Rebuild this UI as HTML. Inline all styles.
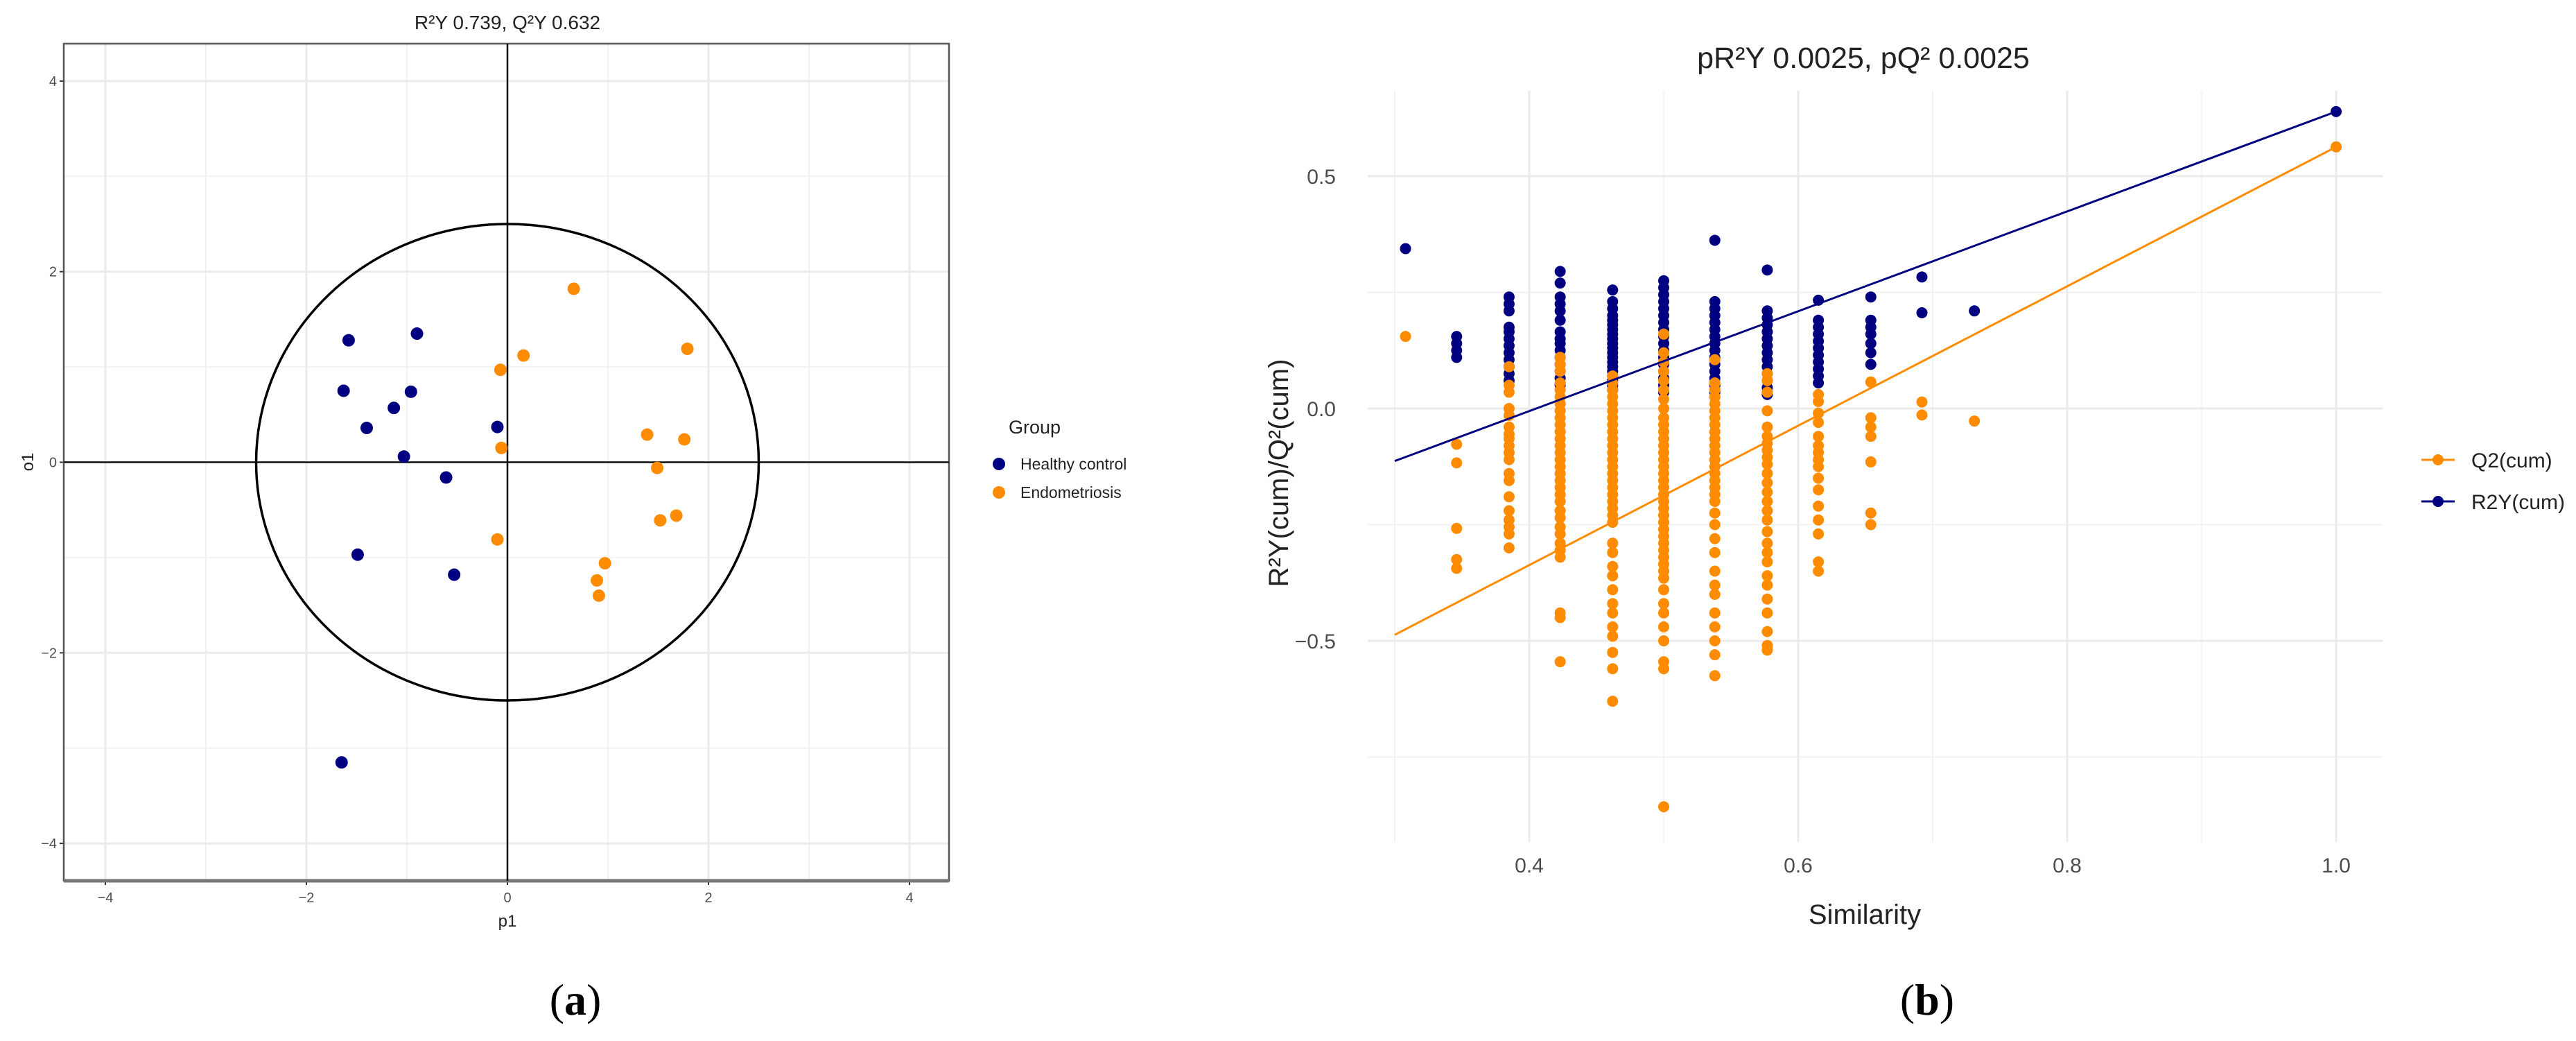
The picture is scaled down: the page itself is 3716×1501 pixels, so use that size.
<!DOCTYPE html>
<html><head><meta charset="utf-8"><style>
html,body{margin:0;padding:0;background:#fff;}
svg{display:block;font-family:"Liberation Sans",Arial,sans-serif;}
</style></head><body>
<svg id="fig" width="3716" height="1501" viewBox="0 0 3716 1501" xmlns="http://www.w3.org/2000/svg">
<g id="pa"></g>
<g id="pb"></g>
</svg>
<script>
// ---------- Panel (a) data ----------
const aTicks = [-4, -2, 0, 2, 4];
const aMinor = [-3, -1, 1, 3];
const hcP1 = [-1.58, -0.90, -1.63, -0.96, -1.13, -1.40, -0.10, -1.03, -0.61, -1.49, -0.53, -1.65];
const hcO1 = [1.28, 1.35, 0.75, 0.74, 0.57, 0.36, 0.37, 0.06, -0.16, -0.97, -1.18, -3.15];
const enP1 = [0.66, 0.16, -0.07, 1.79, 1.39, 1.76, -0.06, 1.49, 1.68, 1.52, -0.10, 0.97, 0.89, 0.91];
const enO1 = [1.82, 1.12, 0.97, 1.19, 0.29, 0.24, 0.15, -0.06, -0.56, -0.61, -0.81, -1.06, -1.24, -1.40];
const ellipseRadius = [2.5];

// ---------- Panel (b) data ----------
const bXTicks = [0.4, 0.6, 0.8, 1.0];
const bXMinor = [0.3, 0.5, 0.7, 0.9];
const bYTicks = [0.5, 0.0, -0.5];
const bYMinor = [0.25, -0.25, -0.75];
const simCols = [0.308, 0.346, 0.385, 0.423, 0.462, 0.5, 0.538, 0.577, 0.615, 0.654, 0.692, 0.731, 1.0];
const r2yCols = [
 [0.344],
 [0.155,0.14,0.125,0.11],
 [0.24,0.225,0.21,0.175,0.165,0.15,0.135,0.12,0.105,0.09,0.075,0.06],
 [0.295,0.27,0.24,0.225,0.21,0.19,0.165,0.15,0.14,0.125,0.11,0.095,0.08,0.065,0.05],
 [0.255,0.23,0.215,0.2,0.19,0.18,0.17,0.16,0.15,0.14,0.13,0.12,0.11,0.1,0.09,0.08,0.07,0.06,0.05,0.04],
 [0.275,0.26,0.245,0.23,0.215,0.2,0.185,0.17,0.155,0.14,0.125,0.11,0.095,0.08,0.065,0.05,0.035],
 [0.362,0.23,0.215,0.2,0.185,0.17,0.155,0.14,0.125,0.11,0.095,0.08,0.065,0.05,0.035,0.025],
 [0.298,0.21,0.195,0.18,0.165,0.15,0.135,0.12,0.105,0.09,0.075,0.06,0.045,0.03],
 [0.233,0.19,0.175,0.16,0.145,0.13,0.115,0.1,0.085,0.07,0.055],
 [0.24,0.19,0.175,0.16,0.14,0.12,0.095],
 [0.283,0.206],
 [0.21],
 [0.639]
];
const q2Cols = [
 [0.155],
 [-0.077,-0.117,-0.258,-0.325,-0.344],
 [0.09,0.05,0.035,0.0,-0.015,-0.04,-0.055,-0.065,-0.08,-0.095,-0.11,-0.14,-0.155,-0.19,-0.22,-0.24,-0.255,-0.27,-0.3],
 [0.11,0.095,0.08,0.055,0.04,0.025,0.01,-0.005,-0.02,-0.035,-0.05,-0.065,-0.08,-0.095,-0.11,-0.125,-0.14,-0.155,-0.17,-0.185,-0.2,-0.22,-0.235,-0.255,-0.27,-0.29,-0.305,-0.32,-0.44,-0.45,-0.545],
 [0.07,0.055,0.04,0.025,0.01,-0.005,-0.02,-0.035,-0.05,-0.065,-0.08,-0.095,-0.11,-0.125,-0.14,-0.155,-0.17,-0.185,-0.2,-0.215,-0.23,-0.245,-0.29,-0.31,-0.34,-0.36,-0.39,-0.42,-0.44,-0.47,-0.49,-0.525,-0.56,-0.63],
 [0.16,0.12,0.1,0.08,0.06,0.04,0.02,0.0,-0.02,-0.035,-0.05,-0.065,-0.08,-0.095,-0.11,-0.125,-0.14,-0.155,-0.17,-0.185,-0.2,-0.215,-0.23,-0.245,-0.26,-0.275,-0.29,-0.305,-0.32,-0.335,-0.35,-0.365,-0.39,-0.42,-0.44,-0.47,-0.5,-0.545,-0.56,-0.857],
 [0.105,0.055,0.04,0.025,0.01,-0.005,-0.02,-0.035,-0.05,-0.065,-0.08,-0.095,-0.11,-0.125,-0.14,-0.155,-0.17,-0.185,-0.2,-0.225,-0.25,-0.28,-0.31,-0.35,-0.38,-0.4,-0.44,-0.47,-0.5,-0.53,-0.575],
 [0.075,0.06,0.035,-0.005,-0.04,-0.06,-0.075,-0.09,-0.105,-0.12,-0.14,-0.16,-0.18,-0.2,-0.22,-0.24,-0.265,-0.29,-0.31,-0.33,-0.36,-0.38,-0.41,-0.44,-0.48,-0.51,-0.52],
 [0.03,0.015,-0.01,-0.03,-0.06,-0.08,-0.095,-0.11,-0.125,-0.15,-0.175,-0.21,-0.24,-0.27,-0.33,-0.35],
 [0.057,-0.02,-0.04,-0.06,-0.115,-0.225,-0.25],
 [0.014,-0.014],
 [-0.027],
 [0.563]
];
const r2yLineX = [0.3, 1.0];
const r2yLineY = [-0.113, 0.639];
const q2LineX = [0.3, 1.0];
const q2LineY = [-0.487, 0.563];

const NS = "http://www.w3.org/2000/svg";
function mk(parent, tag, attrs, text){
  const e = document.createElementNS(NS, tag);
  for (const k in attrs) e.setAttribute(k, attrs[k]);
  if (text !== undefined) e.textContent = text;
  parent.appendChild(e);
  return e;
}

// ---------- Panel (a) ----------
const pa = document.getElementById('pa');
const aL = 92, aR = 1369, aT = 63, aB = 1270;
const ax = v => 732 + v * 145;
const ay = v => 666.5 - v * 137.4;
let e;
aMinor.forEach(v => {
  e = mk(pa, 'line', {x1: ax(v), x2: ax(v), y1: aT, y2: aB, stroke: '#f2f2f2', 'stroke-width': 2});
  
  
  e = mk(pa, 'line', {x1: aL, x2: aR, y1: ay(v), y2: ay(v), stroke: '#f2f2f2', 'stroke-width': 2});
  
  
});
aTicks.forEach(v => {
  e = mk(pa, 'line', {x1: ax(v), x2: ax(v), y1: aT, y2: aB, stroke: '#ebebeb', 'stroke-width': 3});
  
  
  e = mk(pa, 'line', {x1: aL, x2: aR, y1: ay(v), y2: ay(v), stroke: '#ebebeb', 'stroke-width': 3});
  
  
  e = mk(pa, 'line', {x1: ax(v), x2: ax(v), y1: aB, y2: aB + 6, stroke: '#333', 'stroke-width': 2});
  
  
  e = mk(pa, 'text', {x: ax(v), y: aB + 31, 'text-anchor': 'middle', 'font-size': 20, fill: '#4d4d4d'}, v < 0 ? '\u2212' + Math.abs(v) : String(v));
  
  
  e = mk(pa, 'line', {x1: aL - 6, x2: aL, y1: ay(v), y2: ay(v), stroke: '#333', 'stroke-width': 2});
  
  
  e = mk(pa, 'text', {x: aL - 10, y: ay(v) + 7, 'text-anchor': 'end', 'font-size': 20, fill: '#4d4d4d'}, v < 0 ? '\u2212' + Math.abs(v) : String(v));
  
  
});
e = mk(pa, 'rect', {x: aL, y: aT, width: aR - aL, height: aB - aT, fill: 'none', stroke: '#555', 'stroke-width': 2.5});


e = mk(pa, 'line', {x1: aL, x2: aR, y1: aB, y2: aB, stroke: '#777', 'stroke-width': 5});


e = mk(pa, 'line', {x1: aL, x2: aR, y1: ay(0), y2: ay(0), stroke: '#111', 'stroke-width': 2.5});


e = mk(pa, 'line', {x1: ax(0), x2: ax(0), y1: aT, y2: aB, stroke: '#111', 'stroke-width': 2.5});


e = mk(pa, 'ellipse', {cx: ax(0), cy: ay(0), rx: ax(ellipseRadius[0]) - ax(0), ry: ay(0) - ay(ellipseRadius[0]), fill: 'none', stroke: '#000', 'stroke-width': 3.5});


hcP1.forEach((v, i) => {
  e = mk(pa, 'circle', {cx: ax(v), cy: ay(hcO1[i]), r: 9, fill: '#000080'});
  
  
});
enP1.forEach((v, i) => {
  e = mk(pa, 'circle', {cx: ax(v), cy: ay(enO1[i]), r: 9, fill: '#ff8c00'});
  
  
});
e = mk(pa, 'text', {x: 732, y: 42, 'text-anchor': 'middle', 'font-size': 28, fill: '#222'}, 'R\u00b2Y 0.739, Q\u00b2Y 0.632');


e = mk(pa, 'text', {x: 732, y: 1336, 'text-anchor': 'middle', 'font-size': 24, fill: '#222'}, 'p1');


e = mk(pa, 'text', {x: 48, y: 666, 'text-anchor': 'middle', 'font-size': 24, fill: '#222', transform: 'rotate(-90 48 666)'}, 'o1');


e = mk(pa, 'text', {x: 1455, y: 625, 'font-size': 27, fill: '#222'}, 'Group');


e = mk(pa, 'circle', {cx: 1441, cy: 669, r: 9, fill: '#000080'});


e = mk(pa, 'text', {x: 1472, y: 677, 'font-size': 23, fill: '#222'}, 'Healthy control');


e = mk(pa, 'circle', {cx: 1441, cy: 710, r: 9, fill: '#ff8c00'});


e = mk(pa, 'text', {x: 1472, y: 718, 'font-size': 23, fill: '#222'}, 'Endometriosis');


e = mk(pa, 'text', {x: 830, y: 1463, 'text-anchor': 'middle', 'font-size': 64, fill: '#000', 'font-family': '"Liberation Serif", serif'});


mk(e, 'tspan', {}, '(');
mk(e, 'tspan', {'font-weight': 'bold'}, 'a');
mk(e, 'tspan', {}, ')');

// ---------- Panel (b) ----------
const pb = document.getElementById('pb');
const bL = 2013, bR = 3437, bT = 131, bB = 1214;
const bx = v => 2206 + (v - 0.4) * 1940;
const by = v => 589 - v * 670;
bXMinor.forEach(v => {
  e = mk(pb, 'line', {x1: bx(v), x2: bx(v), y1: bT, y2: bB, stroke: '#f3f3f3', 'stroke-width': 2});
  
  
});
bYMinor.forEach(v => {
  e = mk(pb, 'line', {x1: bL - 40, x2: bR, y1: by(v), y2: by(v), stroke: '#f3f3f3', 'stroke-width': 2});
  
  
});
bXTicks.forEach(v => {
  e = mk(pb, 'line', {x1: bx(v), x2: bx(v), y1: bT, y2: bB, stroke: '#ebebeb', 'stroke-width': 3});
  
  
  e = mk(pb, 'text', {x: bx(v), y: 1258, 'text-anchor': 'middle', 'font-size': 30, fill: '#4d4d4d'}, v.toFixed(1));
  
  
});
bYTicks.forEach(v => {
  e = mk(pb, 'line', {x1: bL - 40, x2: bR, y1: by(v), y2: by(v), stroke: '#ebebeb', 'stroke-width': 3});
  
  
  e = mk(pb, 'text', {x: 1927, y: by(v) + 11, 'text-anchor': 'end', 'font-size': 30, fill: '#4d4d4d'}, v < 0 ? '\u2212' + Math.abs(v).toFixed(1) : v.toFixed(1));
  
  
});
simCols.forEach((s, i) => {
  r2yCols[i].forEach(v => {
    e = mk(pb, 'circle', {cx: bx(s), cy: by(v), r: 8, fill: '#000080'});
    
    
  });
});
simCols.forEach((s, i) => {
  q2Cols[i].forEach(v => {
    e = mk(pb, 'circle', {cx: bx(s), cy: by(v), r: 8, fill: '#ff8c00'});
    
    
  });
});
e = mk(pb, 'line', {x1: bx(r2yLineX[0]), y1: by(r2yLineY[0]), x2: bx(r2yLineX[1]), y2: by(r2yLineY[1]), stroke: '#000080', 'stroke-width': 3});


e = mk(pb, 'line', {x1: bx(q2LineX[0]), y1: by(q2LineY[0]), x2: bx(q2LineX[1]), y2: by(q2LineY[1]), stroke: '#ff8c00', 'stroke-width': 3});


e = mk(pb, 'text', {x: 2688, y: 98, 'text-anchor': 'middle', 'font-size': 43, fill: '#222'}, 'pR\u00b2Y 0.0025, pQ\u00b2 0.0025');


e = mk(pb, 'text', {x: 2690, y: 1332, 'text-anchor': 'middle', 'font-size': 40, fill: '#222'}, 'Similarity');


e = mk(pb, 'text', {x: 1858, y: 682, 'text-anchor': 'middle', 'font-size': 40, fill: '#222', transform: 'rotate(-90 1858 682)'}, 'R\u00b2Y(cum)/Q\u00b2(cum)');


e = mk(pb, 'line', {x1: 3493, x2: 3541, y1: 663, y2: 663, stroke: '#ff8c00', 'stroke-width': 3});


e = mk(pb, 'circle', {cx: 3517, cy: 663, r: 8, fill: '#ff8c00'});


e = mk(pb, 'text', {x: 3565, y: 674, 'font-size': 30, fill: '#222'}, 'Q2(cum)');


e = mk(pb, 'line', {x1: 3493, x2: 3541, y1: 723, y2: 723, stroke: '#000080', 'stroke-width': 3});


e = mk(pb, 'circle', {cx: 3517, cy: 723, r: 8, fill: '#000080'});


e = mk(pb, 'text', {x: 3565, y: 734, 'font-size': 30, fill: '#222'}, 'R2Y(cum)');


e = mk(pb, 'text', {x: 2780, y: 1463, 'text-anchor': 'middle', 'font-size': 64, fill: '#000', 'font-family': '"Liberation Serif", serif'});


mk(e, 'tspan', {}, '(');
mk(e, 'tspan', {'font-weight': 'bold'}, 'b');
mk(e, 'tspan', {}, ')');
</script>
</body></html>
